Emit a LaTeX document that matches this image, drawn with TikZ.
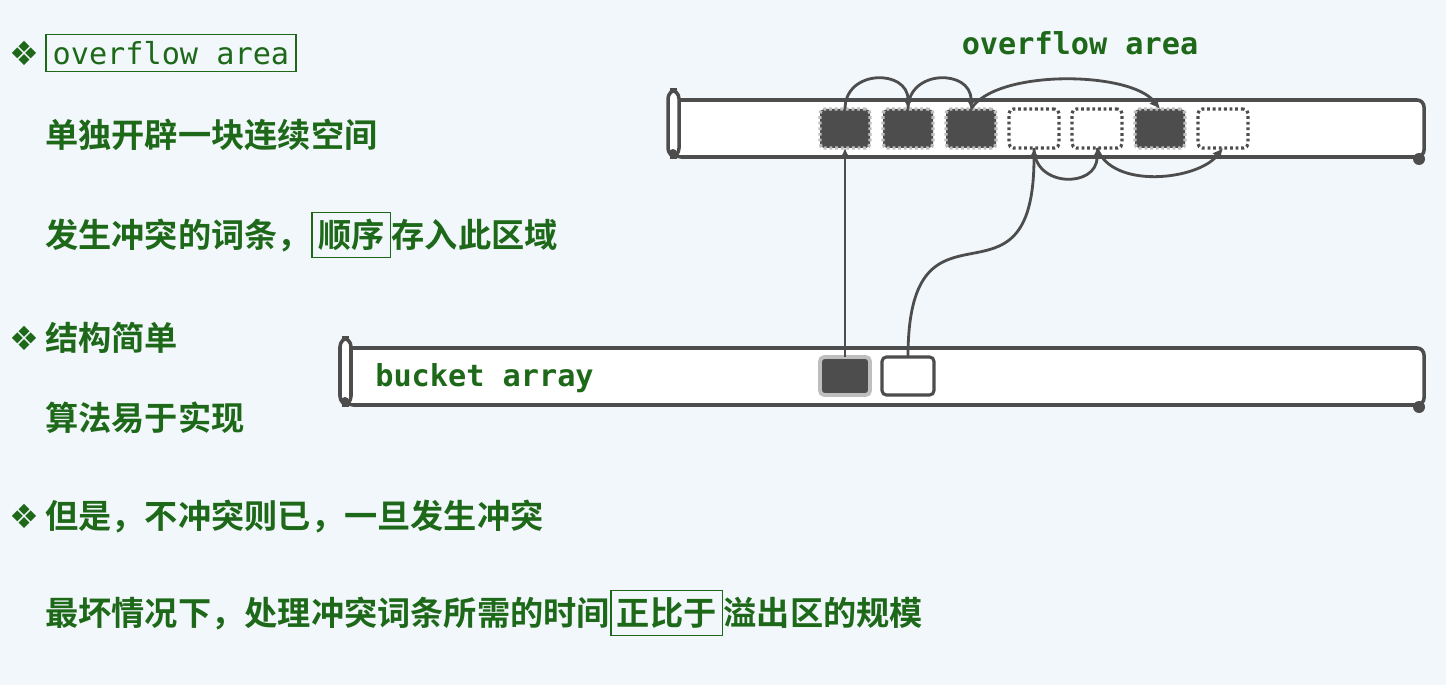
\documentclass[tikz,border=0pt]{standalone}
\usepackage{fontspec}
\usepackage{tikz}
\usetikzlibrary{arrows.meta,positioning}
\newfontfamily\cjk{Noto Sans CJK SC}[BoldFont={Noto Sans CJK SC Bold}]
\newfontfamily\monofont{DejaVu Sans Mono}
\newfontfamily\symfont{DejaVu Sans}
\definecolor{bgblue}{RGB}{242,247,251}
\definecolor{textgreen}{RGB}{30,105,25}
\definecolor{cellgray}{RGB}{77,77,77}
\definecolor{rimgray}{RGB}{190,190,190}

\begin{document}
\begin{tikzpicture}[x=0.02cm,y=-0.02cm,
    cjktext/.style={font=\cjk\bfseries\fontsize{18.9}{23}\selectfont,text=textgreen,
      inner sep=0pt,text height=16.6pt,text depth=2.3pt,anchor=west},
    keybox/.style={draw=textgreen,line width=0.9pt,inner sep=3.4pt},
    monotext/.style={font=\monofont\fontsize{17.2}{20}\selectfont,text=textgreen,inner sep=0pt},
    bullet/.style={font=\symfont\fontsize{19}{21}\selectfont,text=textgreen,inner sep=0pt},
    scrollline/.style={draw=cellgray,line width=2pt},
    cell/.style={minimum width=1cm,minimum height=0.78cm,rounded corners=2.5pt,
      inner sep=0pt,outer sep=0pt},
    fullcell/.style={cell,fill=cellgray,draw=rimgray,line width=1.8pt,dash pattern=on 1.6pt off 1.6pt},
    freecell/.style={cell,fill=white,draw=cellgray,line width=1.8pt,dash pattern=on 1.6pt off 1.6pt},
    link/.style={draw=cellgray,line width=1.6pt,-{Latex[length=6pt,width=6pt]}}]
  \fill[bgblue] (0,0) rectangle (1446,685);
  \useasboundingbox (0,0) rectangle (1446,685);

  % left column
  \foreach \y/\n in {53/1,338/2,516/3}
    \node[bullet] (dot\n) at (24,\y) {❖};
  \node[monotext,draw=textgreen,line width=0.9pt,anchor=west,inner xsep=3.9pt,
    minimum height=0.74cm] (key) at (45,53) {overflow area};
  \node[cjktext] (line1) at (45,135) {单独开辟一块连续空间};
  \node[cjktext] (line2a) at (45,235) {发生冲突的词条，};
  \node[cjktext,keybox] (line2b) at (line2a.east) {顺序};
  \node[cjktext] (line2c) at (line2b.east) {存入此区域};
  \node[cjktext] (line3) at (45,338) {结构简单};
  \node[cjktext] (line4) at (45,418) {算法易于实现};
  \node[cjktext] (line5) at (45,516) {但是，不冲突则已，一旦发生冲突};
  \node[cjktext] (line6a) at (45,613) {最坏情况下，处理冲突词条所需的时间};
  \node[cjktext,keybox] (line6b) at (line6a.east) {正比于};
  \node[cjktext] (line6c) at (line6b.east) {溢出区的规模};

  % scrolls
  \foreach \xl/\yt in {674/100,346/348} {
    \draw[scrollline,fill=white,rounded corners=4] (\xl,\yt) -- (1424,\yt)
      -- (1424,\yt+57) -- (\xl,\yt+57) -- cycle;
    \draw[scrollline,fill=white,rounded corners=5] (\xl-6,\yt-10) rectangle (\xl+5,\yt+57);
    \fill[cellgray] (1419,\yt+59) circle (6);
    \fill[cellgray] (\xl-1,\yt+53) circle (4);
  }
  \node[monotext,font=\monofont\bfseries\fontsize{17.2}{20}\selectfont] (oatitle)
    at (1080,43) {overflow area};
  \node[monotext,font=\monofont\bfseries\fontsize{17.2}{20}\selectfont,anchor=west] (batitle)
    at (375,378) {bucket array};

  % overflow cells
  \foreach \i/\kind in {1/fullcell,2/fullcell,3/fullcell,4/freecell,5/freecell,6/fullcell,7/freecell}
    \node[\kind] (o\i) at ({845+63*(\i-1)},128.5) {};
  % bucket cells
  \node[cell,fill=cellgray,draw=rimgray,line width=2.2pt,minimum height=0.76cm] (b1) at (845,376) {};
  \node[cell,fill=white,draw=cellgray,line width=1.8pt,minimum width=1.04cm,minimum height=0.76cm] (b2) at (908,376) {};

  % chains
  \draw[link] (b1.north) -- (o1.south);
  \draw[link] (b2.north) .. controls +(0,-180) and +(0,180) .. (o4.south);
  \draw[link] (o4.south) .. controls +(0,40) and +(0,40) .. (o5.south);
  \draw[link] (o5.south) .. controls +(15,42) and +(-25,32) .. (o7.south);
  \draw[link] (o1.north) .. controls +(0,-40) and +(0,-40) .. (o2.north);
  \draw[link] (o2.north) .. controls +(0,-40) and +(0,-40) .. (o3.north);
  \draw[link] (o3.north) .. controls +(25,-40) and +(-30,-38) .. (o6.north);
\end{tikzpicture}
\end{document}
